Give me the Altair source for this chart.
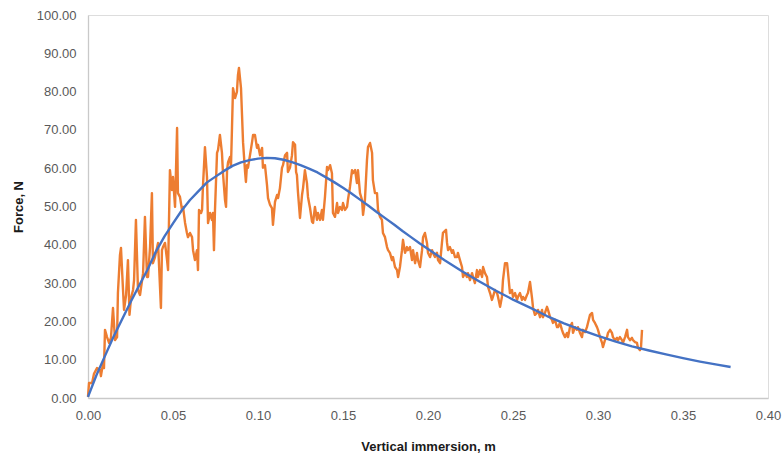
import altair as alt
import pandas as pd

# Measured force trace (orange)
orange_x = [
    0.0000, 0.0006, 0.0024, 0.0035, 0.0053, 0.0071, 0.0076, 0.0088, 0.0094, 0.0100,
    0.0112, 0.0124, 0.0135, 0.0147, 0.0159, 0.0171, 0.0176, 0.0188, 0.0194, 0.0206,
    0.0212, 0.0224, 0.0235, 0.0244, 0.0253, 0.0265, 0.0271, 0.0282, 0.0294, 0.0306,
    0.0324, 0.0335, 0.0347, 0.0353, 0.0365, 0.0376, 0.0382, 0.0394, 0.0412, 0.0429,
    0.0435, 0.0441, 0.0453, 0.0465, 0.0471, 0.0482, 0.0494, 0.0500, 0.0512, 0.0524,
    0.0529, 0.0541, 0.0553, 0.0559, 0.0571, 0.0582, 0.0588, 0.0600, 0.0612, 0.0618,
    0.0629, 0.0641, 0.0647, 0.0653, 0.0665, 0.0671, 0.0676, 0.0688, 0.0700, 0.0706,
    0.0718, 0.0729, 0.0735, 0.0741, 0.0747, 0.0759, 0.0765, 0.0776, 0.0788, 0.0794,
    0.0806, 0.0812, 0.0818, 0.0824, 0.0835, 0.0841, 0.0847, 0.0853, 0.0865, 0.0876,
    0.0882, 0.0888, 0.0900, 0.0906, 0.0912, 0.0924, 0.0929, 0.0935, 0.0941, 0.0953,
    0.0965, 0.0971, 0.0982, 0.0994, 0.1000, 0.1012, 0.1024, 0.1029, 0.1041, 0.1053,
    0.1059, 0.1071, 0.1082, 0.1088, 0.1100, 0.1112, 0.1118, 0.1129, 0.1141, 0.1147,
    0.1159, 0.1171, 0.1176, 0.1188, 0.1200, 0.1206, 0.1218, 0.1224, 0.1229, 0.1235,
    0.1247, 0.1259, 0.1265, 0.1276, 0.1288, 0.1294, 0.1306, 0.1318, 0.1324, 0.1335,
    0.1347, 0.1353, 0.1365, 0.1376, 0.1382, 0.1394, 0.1406, 0.1412, 0.1424, 0.1435,
    0.1441, 0.1453, 0.1465, 0.1471, 0.1482, 0.1494, 0.1500, 0.1512, 0.1524, 0.1529,
    0.1541, 0.1553, 0.1559, 0.1571, 0.1582, 0.1588, 0.1600, 0.1612, 0.1618, 0.1629,
    0.1641, 0.1647, 0.1659, 0.1671, 0.1676, 0.1688, 0.1700, 0.1706, 0.1718, 0.1729,
    0.1735, 0.1747, 0.1759, 0.1765, 0.1776, 0.1788, 0.1794, 0.1806, 0.1818, 0.1824,
    0.1835, 0.1847, 0.1853, 0.1865, 0.1876, 0.1882, 0.1894, 0.1906, 0.1912, 0.1924,
    0.1935, 0.1941, 0.1953, 0.1965, 0.1971, 0.1982, 0.1994, 0.2000, 0.2012, 0.2024,
    0.2029, 0.2041, 0.2053, 0.2059, 0.2071, 0.2082, 0.2088, 0.2106, 0.2112, 0.2118,
    0.2129, 0.2141, 0.2147, 0.2159, 0.2171, 0.2176, 0.2188, 0.2200, 0.2206, 0.2218,
    0.2229, 0.2235, 0.2247, 0.2259, 0.2265, 0.2276, 0.2288, 0.2294, 0.2306, 0.2318,
    0.2324, 0.2335, 0.2347, 0.2353, 0.2365, 0.2376, 0.2382, 0.2394, 0.2406, 0.2412,
    0.2424, 0.2435, 0.2441, 0.2453, 0.2465, 0.2471, 0.2482, 0.2494, 0.2500, 0.2512,
    0.2524, 0.2529, 0.2541, 0.2553, 0.2559, 0.2571, 0.2582, 0.2588, 0.2600, 0.2612,
    0.2618, 0.2629, 0.2641, 0.2647, 0.2659, 0.2671, 0.2676, 0.2688, 0.2700, 0.2706,
    0.2718, 0.2729, 0.2735, 0.2747, 0.2759, 0.2765, 0.2776, 0.2788, 0.2794, 0.2806,
    0.2818, 0.2824, 0.2835, 0.2847, 0.2853, 0.2865, 0.2876, 0.2882, 0.2894, 0.2906,
    0.2912, 0.2924, 0.2935, 0.2941, 0.2953, 0.2965, 0.2971, 0.2982, 0.2994, 0.3000,
    0.3012, 0.3024, 0.3029, 0.3041, 0.3053, 0.3059, 0.3071, 0.3082, 0.3088, 0.3100,
    0.3112, 0.3118, 0.3129, 0.3141, 0.3147, 0.3159, 0.3171, 0.3176, 0.3188, 0.3200,
    0.3206, 0.3218, 0.3229, 0.3235, 0.3247, 0.3253, 0.3259,
]
orange_y = [
    0.3, 3.9, 3.9, 6.3, 7.8, 7.3, 5.7, 8.9, 7.8, 17.8,
    15.9, 14.4, 15.7, 23.5, 15.1, 15.9, 27.4, 37.3, 39.2, 28.2,
    23.0, 26.9, 36.0, 21.7, 26.1, 28.2, 30.8, 46.5, 28.2, 26.9,
    32.6, 47.3, 31.6, 31.6, 39.4, 53.5, 35.2, 36.8, 40.5, 23.5,
    38.6, 39.4, 40.5, 36.0, 33.4, 59.5, 54.3, 57.7, 49.9, 70.5,
    53.5, 52.5, 49.1, 49.9, 45.7, 43.1, 42.0, 43.1, 42.0, 38.6,
    36.0, 38.6, 33.4, 49.1, 48.3, 49.1, 55.1, 65.5, 57.7, 45.7,
    48.3, 46.5, 48.3, 38.6, 49.1, 64.0, 64.8, 68.7, 64.0, 58.7,
    51.7, 49.9, 59.5, 61.6, 62.9, 60.3, 70.5, 80.9, 78.3, 79.9,
    84.3, 86.2, 80.9, 73.9, 66.8, 59.0, 56.4, 60.8, 60.1, 63.4,
    66.8, 68.7, 68.7, 65.3, 66.1, 63.4, 65.3, 60.1, 60.8, 55.6,
    52.2, 50.4, 49.6, 45.2, 51.2, 53.0, 52.2, 54.8, 60.1, 60.8,
    63.4, 64.0, 59.0, 60.1, 63.4, 66.8, 66.1, 59.0, 58.2, 53.8,
    47.0, 53.0, 54.8, 59.5, 56.1, 52.5, 49.6, 46.0, 45.7, 49.9,
    46.5, 48.3, 46.5, 49.1, 46.5, 52.5, 60.3, 59.5, 60.8, 58.7,
    48.3, 47.3, 50.9, 48.3, 49.9, 49.1, 50.9, 49.1, 49.9, 51.7,
    55.1, 59.5, 58.7, 59.5, 56.1, 59.5, 53.5, 51.7, 47.8, 51.7,
    62.1, 65.5, 66.6, 64.0, 56.9, 53.5, 53.5, 49.1, 47.3, 46.5,
    43.1, 42.0, 39.4, 38.6, 37.9, 36.0, 36.8, 34.2, 33.4, 31.6,
    34.2, 38.6, 41.3, 37.9, 39.4, 38.6, 39.4, 36.0, 38.6, 35.2,
    37.9, 36.0, 34.2, 38.6, 42.0, 43.1, 40.5, 37.9, 36.8, 38.6,
    37.9, 36.8, 37.9, 36.0, 35.2, 40.5, 43.1, 43.9, 40.5, 38.6,
    39.4, 37.9, 38.6, 36.8, 36.8, 37.9, 36.0, 34.2, 31.6, 32.6,
    31.6, 32.6, 30.8, 32.6, 31.6, 30.0, 33.4, 31.6, 33.4, 31.6,
    34.2, 32.6, 31.6, 29.0, 27.4, 25.6, 26.4, 28.2, 27.4, 26.4,
    23.8, 26.4, 30.8, 35.2, 35.2, 32.6, 27.4, 28.2, 26.4, 27.4,
    25.6, 26.4, 27.4, 25.6, 26.4, 25.6, 26.9, 27.4, 30.3, 26.1,
    23.5, 21.7, 22.2, 23.0, 21.1, 23.0, 21.1, 22.2, 23.8, 23.0,
    21.1, 20.4, 19.6, 20.4, 18.5, 18.5, 19.6, 17.8, 17.0, 15.9,
    17.0, 15.9, 18.5, 19.6, 17.0, 18.5, 17.8, 18.5, 17.0, 15.9,
    17.8, 17.2, 18.5, 19.6, 21.7, 22.2, 20.4, 19.6, 18.5, 17.8,
    15.9, 14.4, 13.3, 15.1, 15.9, 17.0, 17.8, 17.0, 15.9, 15.1,
    15.7, 15.1, 15.9, 15.1, 14.4, 15.9, 17.8, 15.9, 15.1, 15.7,
    15.1, 14.6, 14.4, 13.1, 12.5, 13.3, 17.8,
]

# Fitted curve (blue)
fit_x = [
    0.000, 0.005, 0.010, 0.015, 0.020, 0.025, 0.030, 0.035, 0.040, 0.045,
    0.050, 0.055, 0.060, 0.065, 0.070, 0.075, 0.080, 0.085, 0.090, 0.095,
    0.100, 0.105, 0.110, 0.115, 0.120, 0.125, 0.130, 0.135, 0.140, 0.145,
    0.150, 0.155, 0.160, 0.165, 0.170, 0.175, 0.180, 0.185, 0.190, 0.195,
    0.200, 0.210, 0.220, 0.230, 0.240, 0.250, 0.260, 0.270, 0.280, 0.290,
    0.300, 0.310, 0.320, 0.330, 0.340, 0.350, 0.360, 0.370, 0.378,
]
fit_y = [
    0.3, 6.0, 11.0, 16.0, 20.5, 25.0, 29.3, 33.5, 38.3, 42.2,
    45.6, 48.9, 51.7, 54.0, 56.3, 57.8, 59.3, 60.6, 61.5, 62.1,
    62.5, 62.7, 62.6, 62.2, 61.6, 60.8, 59.9, 58.9, 57.6, 56.3,
    54.9, 53.4, 51.8, 50.2, 48.5, 46.9, 45.3, 43.6, 42.0, 40.4,
    38.9, 35.9, 33.1, 30.5, 28.0, 25.7, 23.6, 21.4, 19.5, 17.8,
    16.2, 14.8, 13.5, 12.4, 11.4, 10.4, 9.5, 8.7, 8.1,
]

series_names = ["Measured", "Fit"]
series_colors = ["#ED7D31", "#4472C4"]

x_ticks = [0.0, 0.05, 0.10, 0.15, 0.20, 0.25, 0.30, 0.35, 0.40]
y_ticks = [0, 10, 20, 30, 40, 50, 60, 70, 80, 90, 100]

# one long table: measured trace first so the fitted curve is painted over it
data = pd.concat(
    [
        pd.DataFrame({"x": orange_x, "y": orange_y, "series": series_names[0],
                      "i": range(len(orange_x))}),
        pd.DataFrame({"x": fit_x, "y": fit_y, "series": series_names[1],
                      "i": range(len(fit_x))}),
    ],
    ignore_index=True,
)

FONT = "Liberation Sans"
axis_style = dict(
    format=".2f",
    grid=False,
    ticks=False,
    labelOverlap=False,
    labelFlush=False,
    labelFont=FONT,
    labelFontSize=13,
    labelColor="#595959",
    titleFont=FONT,
    titleFontSize=13,
    titleFontWeight="bold",
    titleColor="#1A1A1A",
    domainColor="#C9C9C9",
    domainWidth=1.3,
)

chart = (
    alt.Chart(data)
    .mark_line(strokeWidth=2.4, strokeJoin="round")
    .encode(
        x=alt.X(
            "x:Q",
            scale=alt.Scale(domain=[0, 0.4], nice=False, zero=True),
            axis=alt.Axis(values=x_ticks, title="Vertical immersion, m",
                          labelPadding=11, titlePadding=18, **axis_style),
        ),
        y=alt.Y(
            "y:Q",
            scale=alt.Scale(domain=[0, 100], nice=False),
            axis=alt.Axis(values=y_ticks, title="Force, N",
                          labelPadding=12, titlePadding=11, **axis_style),
        ),
        color=alt.Color(
            "series:N",
            scale=alt.Scale(domain=series_names, range=series_colors),
            legend=None,
        ),
        order="i:Q",
    )
    .properties(
        width=680,
        height=383,
        autosize=alt.AutoSizeParams(type="none"),
        padding={"left": 88, "top": 15, "right": 15, "bottom": 58},
    )
    .configure_view(strokeWidth=0)
    .configure(background="white")
)

chart.save("out.html", embed_options={"renderer": "svg", "actions": False})
